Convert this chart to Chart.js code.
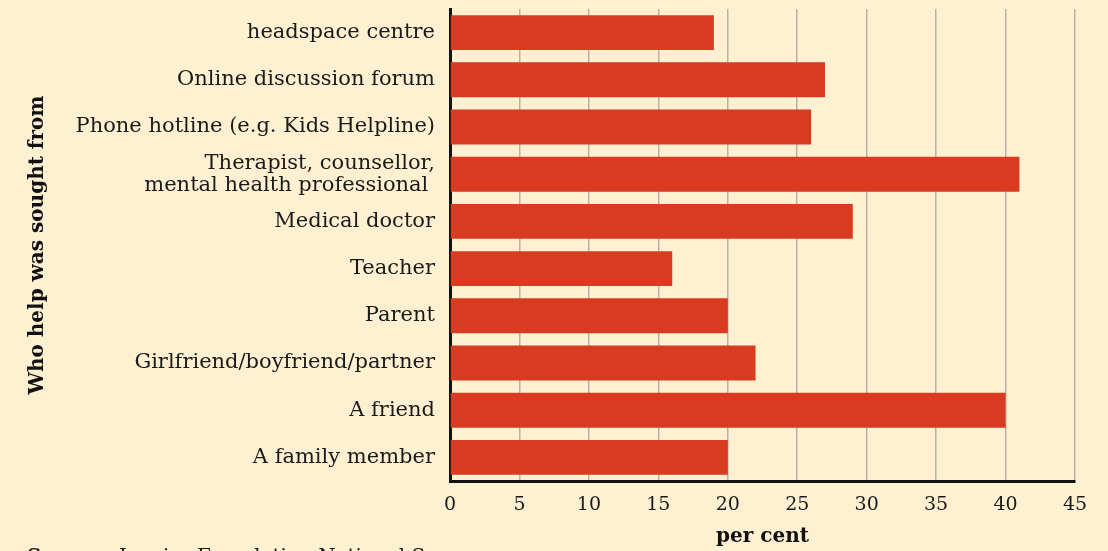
<!DOCTYPE html>
<html>
<head>
<meta charset="utf-8">
<script src="https://cdn.jsdelivr.net/npm/chart.js@4"></script>
<style>
    html, body { margin: 0; padding: 0; background: #fff0d2; }
    #wrap { width: 1108px; height: 551px; }
</style>
</head>
<body>
<div id="wrap"><canvas id="help_chart"></canvas></div>
<script>
// who young people went to for help
let categories = [
    "headspace centre",
    "Online discussion forum",
    "Phone hotline (e.g. Kids Helpline)",
    ["Therapist, counsellor,", "mental health professional "],
    "Medical doctor",
    "Teacher",
    "Parent",
    "Girlfriend/boyfriend/partner",
    "A friend",
    "A family member"
];
let percents = [19, 27, 26, 41, 29, 16, 20, 22, 40, 20];
let xTicks = [0, 5, 10, 15, 20, 25, 30, 35, 40, 45];

const serif = "'DejaVu Serif', 'Liberation Serif', serif";

// source line at the very bottom, mostly cut off in the original
const sourceNote = {
    id: 'sourceNote',
    afterDraw(chart) {
        const ctx = chart.ctx;
        ctx.save();
        ctx.fillStyle = "#1a1a1a";
        ctx.textBaseline = "alphabetic";
        ctx.font = "bold 20px " + serif;
        ctx.fillText("Source:", 27, 563);
        let w = ctx.measureText("Source: ").width;
        ctx.font = "20px " + serif;
        ctx.fillText("Inspire Foundation National Survey", 27 + w, 563);
        ctx.restore();
    }
};

function createHelpChart() {
    let chart = document.getElementById("help_chart");
    const data = {
        labels: categories,
        datasets: [{
            label: 'per cent',
            data: percents,
            backgroundColor: '#d93b20',
            borderWidth: 0,
            barPercentage: 0.74,
            categoryPercentage: 1.0
        }]
    };

    const config = {
        type: 'bar',
        data: data,
        plugins: [sourceNote],
        options: {
            indexAxis: 'y',
            responsive: true,
            maintainAspectRatio: false,
            animation: false,
            layout: {
                padding: { top: 9, right: 33, bottom: 0, left: 0 }
            },
            plugins: {
                legend: { display: false },
                tooltip: { enabled: false }
            },
            scales: {
                x: {
                    min: 0,
                    max: 45,
                    afterBuildTicks: (scale) => {
                        scale.ticks = xTicks.map(v => ({ value: v }));
                    },
                    afterFit: (scale) => {
                        scale.height = 70;
                        scale.paddingLeft = 0;
                        scale.paddingRight = 0;
                    },
                    grid: {
                        color: "#b8b2a6",
                        lineWidth: 1.5,
                        drawTicks: false
                    },
                    border: { color: "#111", width: 3 },
                    ticks: {
                        color: "#1a1a1a",
                        padding: 13,
                        font: { family: serif, size: 19 }
                    },
                    title: {
                        display: true,
                        text: "per cent",
                        color: "#111",
                        padding: { top: 0, bottom: 2 },
                        font: { family: serif, size: 20, weight: 'bold' }
                    }
                },
                y: {
                    afterFit: (scale) => {
                        scale.width = 450;
                        scale.paddingTop = 0;
                        scale.paddingBottom = 0;
                    },
                    grid: { display: false, drawTicks: false },
                    border: { color: "#111", width: 3 },
                    ticks: {
                        autoSkip: false,
                        color: "#1a1a1a",
                        padding: 15,
                        font: { family: serif, size: 21, lineHeight: 1.05 }
                    },
                    title: {
                        display: true,
                        text: "Who help was sought from",
                        color: "#111",
                        padding: { top: 26, bottom: 0 },
                        font: { family: serif, size: 20, weight: 'bold' }
                    }
                }
            }
        }
    };

    const myChart = new Chart(chart, config);
}

createHelpChart();
</script>
</body>
</html>
